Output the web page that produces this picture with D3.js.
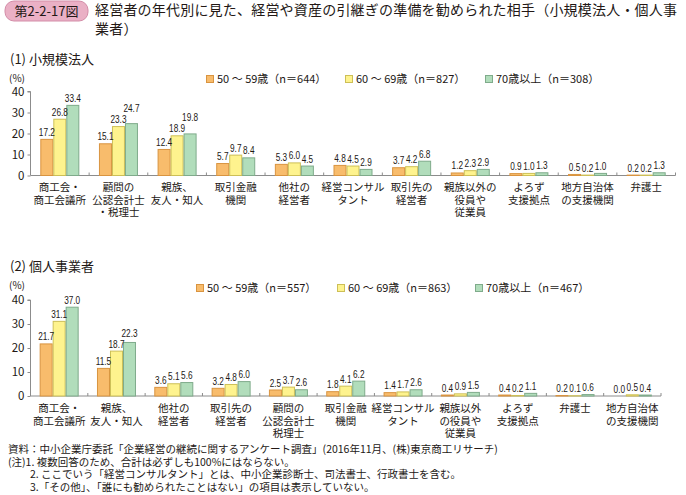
<!DOCTYPE html>
<html><head><meta charset="utf-8">
<script src="https://cdn.jsdelivr.net/npm/d3@7/dist/d3.min.js"></script>
<style>
body{margin:0;background:#fff;}
svg{display:block;font-family:"Noto Sans CJK JP","Noto Sans",sans-serif;}
</style></head>
<body>
<svg id="c" width="686" height="495"></svg>
<script>
// ---- data ----
const seriesNames = ["50～59歳", "60～69歳", "70歳以上"];
const legend1 = ["50 ～ 59歳（n＝644）", "60 ～ 69歳（n＝827）", "70歳以上（n＝308）"];
const legend2 = ["50 ～ 59歳（n＝557）", "60 ～ 69歳（n＝863）", "70歳以上（n＝467）"];
const yTicks = [0, 10, 20, 30, 40];

const cats1 = [
  ["商工会・","商工会議所"], ["顧問の","公認会計士","・税理士"], ["親族、","友人・知人"],
  ["取引金融","機関"], ["他社の","経営者"], ["経営コンサル","タント"], ["取引先の","経営者"],
  ["親族以外の","役員や","従業員"], ["よろず","支援拠点"], ["地方自治体","の支援機関"], ["弁護士"]
];
const s1_50 = [17.2, 15.1, 12.4, 5.7, 5.3, 4.8, 3.7, 1.2, 0.9, 0.5, 0.2];
const s1_60 = [26.8, 23.3, 18.9, 9.7, 6.0, 4.5, 4.2, 2.3, 1.0, 0.2, 0.2];
const s1_70 = [33.4, 24.7, 19.8, 8.4, 4.5, 2.9, 6.8, 2.9, 1.3, 1.0, 1.3];

const cats2 = [
  ["商工会・","商工会議所"], ["親族、","友人・知人"], ["他社の","経営者"], ["取引先の","経営者"],
  ["顧問の","公認会計士","税理士"], ["取引金融","機関"], ["経営コンサル","タント"],
  ["親族以外","の役員や","従業員"], ["よろず","支援拠点"], ["弁護士"], ["地方自治体","の支援機関"]
];
const s2_50 = [21.7, 11.5, 3.6, 3.2, 2.5, 1.8, 1.4, 0.4, 0.4, 0.2, 0.0];
const s2_60 = [31.1, 18.7, 5.1, 4.8, 3.7, 4.1, 1.7, 0.9, 0.2, 0.1, 0.5];
const s2_70 = [37.0, 22.3, 5.6, 6.0, 2.6, 6.2, 2.6, 1.5, 1.1, 0.6, 0.4];

const notes = [
  "資料：中小企業庁委託「企業経営の継続に関するアンケート調査」(2016年11月、(株)東京商工リサーチ)",
  "(注)1. 複数回答のため、合計は必ずしも100%にはならない。",
  "2. ここでいう「経営コンサルタント」とは、中小企業診断士、司法書士、行政書士を含む。",
  "3.「その他」、「誰にも勧められたことはない」の項目は表示していない。"
];

// ---- styles ----
const fills = ["#F8BC6C", "#FEF38E", "#B1DDBB"];
const strokes = ["#D99440", "#CDBF57", "#7FAB8B"];
const ink = "#231815";
const axisCol = "#8c8c8c";
const SX = 0.75;

const svg = d3.select("#c");
svg.append("rect").attr("width",686).attr("height",495).attr("fill","#fff");

// title
svg.append("rect").attr("x",5).attr("y",1).attr("width",83).attr("height",20).attr("rx",9)
  .attr("fill","#EAB0C5").attr("stroke","#D38DA8").attr("stroke-width",1);
svg.append("text").attr("x",46.5).attr("y",16).attr("text-anchor","middle")
  .attr("font-size",13).attr("fill",ink).text("第2-2-17図");
svg.append("text").attr("x",95).attr("y",15).attr("font-size",14).attr("letter-spacing",0.2).attr("fill",ink)
  .text("経営者の年代別に見た、経営や資産の引継ぎの準備を勧められた相手（小規模法人・個人事");
svg.append("text").attr("x",95).attr("y",34).attr("font-size",14).attr("letter-spacing",0.2).attr("fill",ink).text("業者）");

function panel(cfg){
  const {cats, series, legend, yRange, xRange, legendY, legendX, titleY, title, pctY, labelY} = cfg;
  const g = svg.append("g");
  g.append("text").attr("x",10).attr("y",titleY).attr("font-size",13).attr("fill",ink).text(title);
  g.append("text").attr("x",9).attr("y",pctY).attr("font-size",10).attr("fill",ink).text("(%)");

  const y = d3.scaleLinear().domain([0,40]).range(yRange);
  const x0 = d3.scaleBand().domain(d3.range(cats.length)).range(xRange).paddingInner(0).paddingOuter(0);
  const groupW = 39;
  const x1 = d3.scaleBand().domain(d3.range(series.length)).range([0, groupW]);
  const off = (x0.bandwidth() - groupW) / 2;

  // y axis
  const yAxis = g.append("g").attr("transform",`translate(${xRange[0]},0)`)
    .call(d3.axisLeft(y).tickValues(yTicks).tickSize(3).tickPadding(3));
  yAxis.select(".domain").attr("stroke",axisCol).attr("d",`M-3,${y(40)}H0V${y(0)}`);
  yAxis.selectAll(".tick line").attr("stroke",axisCol);
  yAxis.selectAll(".tick text").attr("font-size",11.5).attr("fill",ink)
    .attr("font-family","'Noto Sans CJK JP','Noto Sans',sans-serif").attr("dy","0.34em");

  // x axis baseline & ticks
  const y0 = y(0);
  g.append("line").attr("x1",xRange[0]).attr("x2",xRange[1]).attr("y1",y0).attr("y2",y0)
    .attr("stroke",axisCol);
  const bounds = d3.range(1, cats.length+1).map(i => xRange[0] + i*x0.step());
  g.selectAll(".xt").data(bounds).join("line")
    .attr("x1",d=>d).attr("x2",d=>d).attr("y1",y0).attr("y2",y0-3).attr("stroke",axisCol);

  // bars
  series.forEach((vals, si) => {
    g.append("g").selectAll("rect").data(vals).join("rect")
      .attr("x",(d,i)=> x0(i)+off+x1(si)+0.5)
      .attr("y",d=> y(d))
      .attr("width", x1.bandwidth()-1)
      .attr("height",d=> Math.max(0, y0 - y(d)))
      .attr("fill",fills[si]).attr("stroke",strokes[si]).attr("stroke-width",1);
  });
  // value labels with simple collision stagger inside each group
  const lg = g.append("g");
  cats.forEach((c, i) => {
    const placed = [];
    series.forEach((vals, si) => {
      const v = vals[i];
      const cx = x0(i)+off+x1(si)+x1.bandwidth()/2;
      const t = lg.append("text").attr("text-anchor","middle").attr("font-size",11)
        .attr("fill",ink).attr("font-family","'Liberation Sans',Arial,sans-serif").text(v.toFixed(1));
      const w = t.node().getComputedTextLength()*SX;
      let b = y(v) - 3.5;
      let moved = true;
      while (moved) {
        moved = false;
        for (const p of placed) {
          if (Math.abs(cx - p.cx) < (w + p.w)/2 - 0.3 && Math.abs(b - p.b) < 11) {
            b = p.b - 11; moved = true;
          }
        }
      }
      placed.push({cx, w, b});
      t.attr("transform",`translate(${cx},${b}) scale(${SX},1)`);
    });
  });
  // category labels
  cats.forEach((lines, i) => {
    const cx = x0(i)+off+groupW/2;
    lines.forEach((ln, k) => g.append("text").attr("text-anchor","middle").attr("font-size",10.5)
      .attr("fill",ink).attr("x",cx).attr("y",labelY + k*12.5).text(ln));
  });
  // legend
  legend.forEach((txt, si) => {
    const lx = legendX[si];
    g.append("rect").attr("x",lx+0.5).attr("y",legendY-3.5).attr("width",7).attr("height",7)
      .attr("fill",fills[si]).attr("stroke",strokes[si]);
    g.append("text").attr("x",lx+11).attr("y",legendY+4).attr("font-size",11).attr("fill",ink).text(txt);
  });
}

panel({cats:cats1, series:[s1_50,s1_60,s1_70], legend:legend1,
  yRange:[175.5,91.5], xRange:[30.5,675.5], legendY:79, legendX:[206,345,485],
  titleY:64, title:"(1) 小規模法人", pctY:82, labelY:191});
panel({cats:cats2, series:[s2_50,s2_60,s2_70], legend:legend2,
  yRange:[396,300], xRange:[30.5,661], legendY:288, legendX:[196,337,475],
  titleY:271, title:"(2) 個人事業者", pctY:289, labelY:412});

// notes
const nx = [8, 8, 30, 30];
notes.forEach((n,i) => svg.append("text").attr("x",nx[i]).attr("y",453 + i*12.7)
  .attr("font-size",10.5).attr("fill",ink).text(n));
</script>
</body></html>
